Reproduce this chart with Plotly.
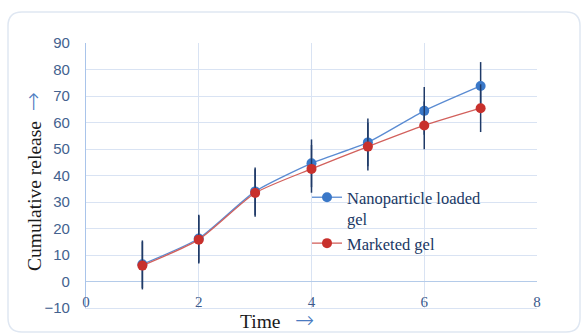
import plotly.graph_objects as go

time = [1, 2, 3, 4, 5, 6, 7]
nano = [6.5, 16.2, 34.0, 44.6, 52.5, 64.4, 73.8]
marketed = [6.0, 15.8, 33.4, 42.5, 50.9, 58.9, 65.4]
nano_err = [9, 9, 9, 9, 9, 9, 9]
market_err = [9, 9, 9, 9, 9, 9, 9]
x_ticks = [0, 2, 4, 6, 8]
y_ticks = [-10, 0, 10, 20, 30, 40, 50, 60, 70, 80, 90]

W, H = 587, 334
L, R, T, B = 86, 50, 43, 26
PW, PH = W - L - R, H - T - B

def px(x):
    return (x - L) / PW

def py(y):
    return (H - B - y) / PH

ERR = "#1f3a68"
fig = go.Figure()
fig.add_trace(go.Scatter(
    x=time, y=nano, name="Nanoparticle loaded<br>gel", mode="lines+markers",
    line=dict(color="#5a8bd2", width=1.3, shape="spline", smoothing=0.6),
    marker=dict(color="#3a78c8", size=10),
    error_y=dict(type="data", array=nano_err, color=ERR, thickness=1.5, width=0),
))
fig.add_trace(go.Scatter(
    x=time, y=marketed, name="Marketed gel", mode="lines+markers",
    line=dict(color="#d2605c", width=1.3, shape="spline", smoothing=0.6),
    marker=dict(color="#c8302c", size=10),
    error_y=dict(type="data", array=market_err, color=ERR, thickness=1.5, width=0),
))

# rounded card border
x0, x1, y0, y1 = px(8), px(580), py(332), py(12)
rx, ry = 14 / PW, 14 / PH
path = (f"M {x0+rx},{y1} L {x1-rx},{y1} Q {x1},{y1} {x1},{y1-ry} "
        f"L {x1},{y0+ry} Q {x1},{y0} {x1-rx},{y0} L {x0+rx},{y0} "
        f"Q {x0},{y0} {x0},{y0+ry} L {x0},{y1-ry} Q {x0},{y1} {x0+rx},{y1} Z")
fig.add_shape(type="path", path=path, xref="paper", yref="paper",
              line=dict(color="#dfe7f2", width=1.5), layer="below")

ARROW = ("<span style='color:#4a7ac0;font-family:DejaVu Sans;"
         "font-size:23px;font-weight:200'>→</span>")
fig.add_annotation(
    text="Cumulative release  " + ARROW,
    textangle=-90, xref="paper", yref="paper", x=px(33), y=py(182),
    xanchor="center", yanchor="middle",
    showarrow=False, font=dict(family="Liberation Serif", size=19.5, color="#1a1a1a"),
)
fig.add_annotation(
    text="Time   " + ARROW,
    xref="paper", yref="paper", x=px(277), y=py(320),
    xanchor="center", yanchor="middle",
    showarrow=False, font=dict(family="Liberation Serif", size=19.5, color="#1a1a1a"),
)

fig.update_layout(
    width=W, height=H, margin=dict(l=L, r=R, t=T, b=B, autoexpand=False),
    paper_bgcolor="white", plot_bgcolor="white",
    showlegend=True,
    legend=dict(x=px(307), y=py(180), xanchor="left", yanchor="top",
                bgcolor="rgba(0,0,0,0)", valign="top", tracegroupgap=0,
                font=dict(family="Liberation Serif", size=16.5, color="#203864")),
    xaxis=dict(range=[0, 8], tickvals=x_ticks, showgrid=True, gridcolor="#d9e3f3",
               gridwidth=1, zeroline=False, showline=True, linecolor="#d9e3f3",
               ticks="", ticklabelstandoff=-20, ticklabeloverflow="allow",
               tickfont=dict(family="Liberation Serif", size=15, color="#3b5a8c")),
    yaxis=dict(range=[-10, 90], tickvals=y_ticks, showgrid=True, gridcolor="#d9e3f3",
               gridwidth=1, zeroline=True, zerolinecolor="#b4cbe9", zerolinewidth=1.2,
               showline=True, linecolor="#a9c4ea", linewidth=1.2, ticks="",
               ticklabelstandoff=12, ticklabeloverflow="allow",
               tickfont=dict(family="Liberation Sans", size=15, color="#44628f")),
)

fig.write_html("out.html", config={"displayModeBar": False},
               post_script="document.body.style.margin='0';")
